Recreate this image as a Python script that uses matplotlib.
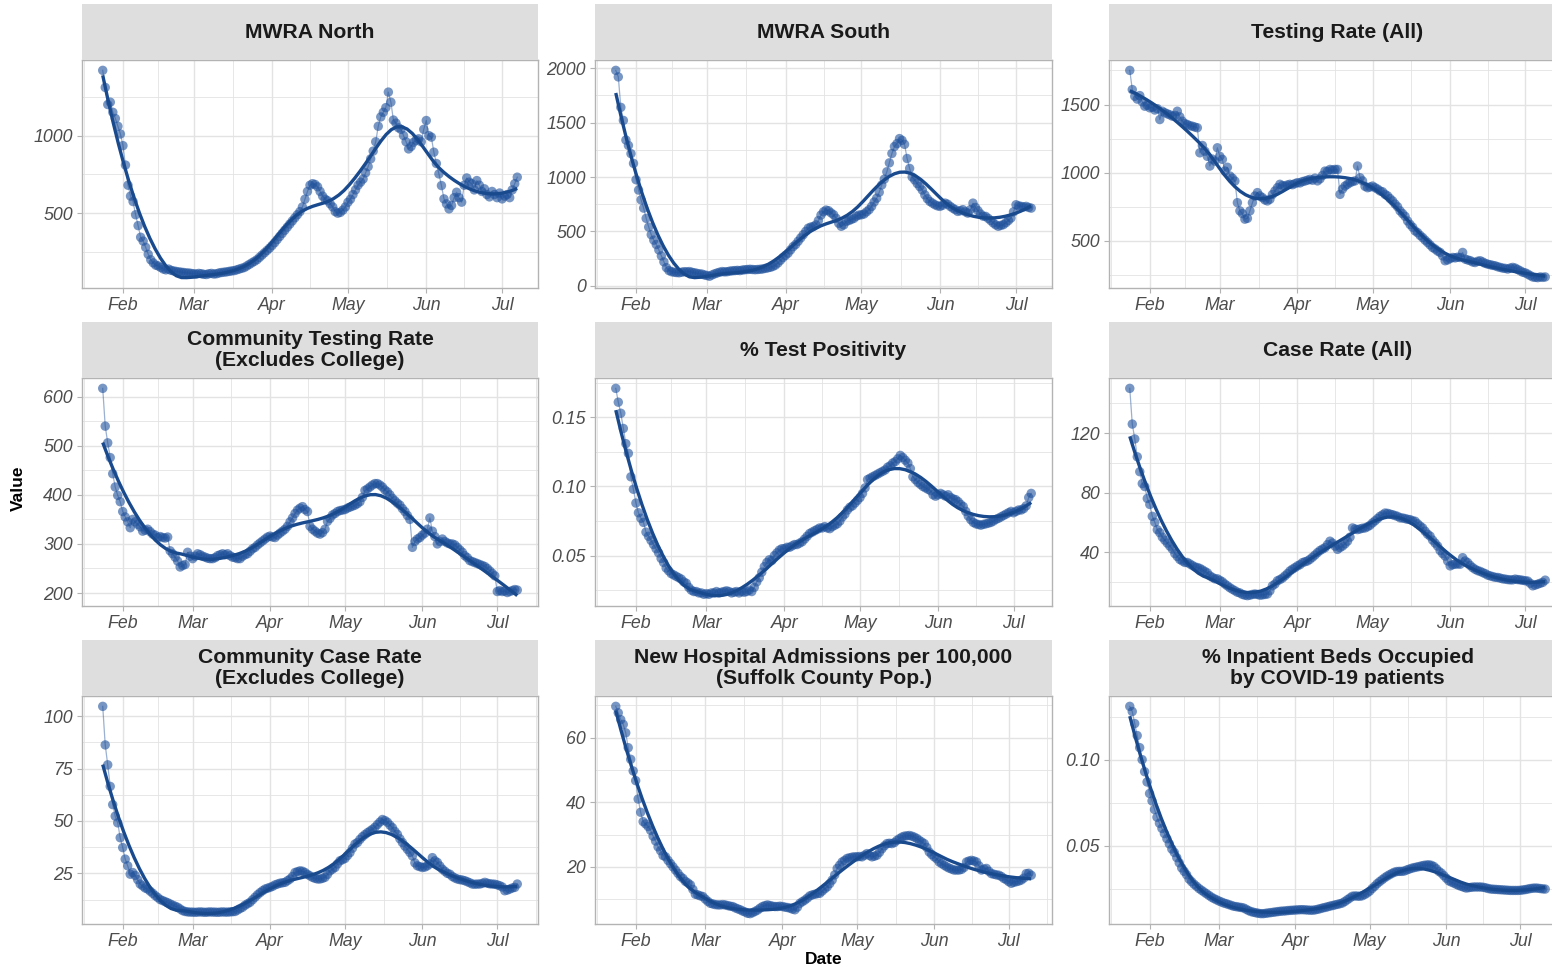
import numpy as np
import matplotlib
matplotlib.use("Agg")
import matplotlib.pyplot as plt
import matplotlib.dates as mdates

plt.rcParams['font.family'] = ['Liberation Sans', 'DejaVu Sans']

# ---------------- data (daily values starting 2021-01-24) ----------------
START_DATE = "2021-01-24"

mwra_north = [1420, 1310, 1200, 1215, 1150, 1110, 1060, 1010,
              935, 810, 680, 610, 575, 490, 420, 345,
              320, 280, 235, 200, 180, 165, 160, 150,
              140, 135, 140, 132, 128, 125, 122, 120, 118, 115, 115, 112,
              110, 108, 112, 110, 106, 105, 110, 112, 108, 110, 115, 118,
              120, 122, 125, 128, 130, 135, 140, 145, 150, 160, 170, 180,
              190, 200, 215, 230, 245, 260, 275,
              292, 310, 330, 350, 370, 390, 410, 430, 450, 470, 490, 510,
              540, 590, 640, 680, 690, 685, 670, 640,
              610, 590, 580, 560, 540, 510, 500, 505, 520, 540,
              570, 590, 620, 650, 680, 700, 720, 760, 800, 850, 900, 960,
              1060, 1120, 1150, 1180, 1280, 1215, 1100, 1080,
              1050, 1040, 1000, 960, 914, 930, 957, 970, 979, 960, 1040, 1097,
              1000, 990, 893, 820, 753, 678, 592, 560, 528, 550, 600, 635,
              600, 571, 680, 727, 700, 690, 650, 710, 680, 640, 657, 620,
              605, 640, 620, 600, 630, 592, 610, 620, 600, 650, 690, 732]

mwra_south = [1980, 1920, 1640, 1520, 1340, 1290, 1215, 1125,
              975, 880, 790, 714, 620, 540, 470, 420,
              380, 330, 275, 220, 167, 140, 130, 125,
              122, 120, 125, 130, 128, 131, 125, 120, 115, 110, 108, 100,
              95, 88, 100, 110, 118, 125, 131, 128, 130, 135, 138, 140,
              142, 140, 145, 148, 150, 152, 150, 148, 150, 152, 155, 160,
              165, 170, 178, 190, 210, 235, 260,
              280, 300, 330, 360, 380, 410, 440, 470, 500, 530, 540, 545,
              560, 600, 650, 680, 696, 690, 670, 653,
              620, 575, 547, 560, 593, 600, 610, 620, 640, 650,
              653, 660, 680, 700, 730, 770, 805, 860, 927, 980, 1048, 1130,
              1216, 1280, 1307, 1353, 1337, 1300, 1170, 1079,
              1000, 973, 940, 912, 880, 836, 800, 775, 760, 745, 735, 730,
              740, 760, 750, 730, 714, 700, 684, 690, 700, 680, 668, 700,
              760, 720, 690, 660, 640, 638, 620, 600, 578, 560, 547, 555,
              562, 580, 600, 623, 680, 745, 735, 730, 725, 730, 720, 714]

testing_rate = [1751, 1610, 1561, 1540, 1566, 1520, 1488, 1495,
                1476, 1480, 1460, 1470, 1390, 1451, 1440, 1432,
                1425, 1415, 1420, 1451, 1410, 1378, 1360, 1354,
                1345, 1341, 1335, 1330, 1146, 1200, 1158, 1120, 1049, 1100, 1085, 1183,
                1120, 1098, 1012, 1040, 976, 960, 939, 780, 720, 700, 659, 665,
                720, 780, 829, 854, 830, 817, 800, 793, 805, 840, 866, 890,
                915, 905, 902, 910, 915, 912, 920,
                927, 925, 935, 939, 945, 951, 945, 960, 940, 955, 980, 1012,
                1010, 1024, 1020, 1024, 1024, 841, 880, 902,
                915, 927, 935, 940, 1049, 963, 940, 900, 890, 895,
                902, 890, 880, 866, 860, 841, 830, 810, 793, 770, 750, 720,
                700, 680, 646, 620, 600, 573, 560, 540,
                524, 505, 488, 470, 451, 440, 425, 415, 390, 354, 360, 370,
                378, 375, 380, 378, 415, 366, 360, 355, 345, 341, 350, 354,
                345, 335, 329, 325, 320, 317, 310, 305, 300, 298, 293, 300,
                305, 300, 290, 280, 270, 265, 256, 245, 235, 232, 230, 235,
                232, 235]

community_testing = [617, 540, 506, 476, 443, 416, 399, 386,
                     366, 355, 345, 333, 350, 345, 340, 335,
                     326, 328, 330, 325, 320, 318, 313, 315,
                     313, 312, 314, 286, 280, 273, 265, 253, 256, 258, 283, 275,
                     270, 275, 280, 278, 275, 273, 271, 270, 270, 272, 276, 278,
                     280, 278, 280, 276, 273, 272, 270, 270, 275, 278, 280, 285,
                     290, 293, 298, 302, 306, 310, 314,
                     316, 314, 313, 318, 322, 326, 330, 336, 345, 353, 362, 369,
                     373, 376, 370, 366, 336, 330, 326, 322,
                     320, 323, 330, 346, 352, 359, 362, 366, 368, 369,
                     370, 373, 375, 377, 379, 382, 386, 395, 409, 412, 416, 420,
                     423, 423, 420, 416, 410, 406, 400, 393,
                     388, 383, 379, 372, 366, 358, 350, 293, 305, 310, 313, 318,
                     322, 330, 353, 326, 315, 300, 305, 310, 305, 302, 300, 300,
                     298, 293, 288, 283, 276, 272, 266, 264, 262, 260, 258, 256,
                     254, 250, 245, 240, 235, 203, 205, 203, 204, 201, 203, 205,
                     207, 206]

test_positivity = [0.171, 0.161, 0.153, 0.142, 0.131, 0.124, 0.107, 0.098,
                   0.088, 0.081, 0.077, 0.074, 0.067, 0.064, 0.061, 0.058,
                   0.055, 0.052, 0.048, 0.045, 0.041, 0.039, 0.037, 0.036,
                   0.035, 0.034, 0.033, 0.031, 0.030, 0.027, 0.025, 0.024, 0.024, 0.023, 0.023, 0.022,
                   0.0225, 0.022, 0.023, 0.023, 0.024, 0.023, 0.0235, 0.024, 0.0245, 0.024, 0.023, 0.0235,
                   0.024, 0.023, 0.024, 0.0235, 0.024, 0.025, 0.024, 0.027, 0.031, 0.034, 0.038, 0.042,
                   0.045, 0.047, 0.0465, 0.050, 0.052, 0.054, 0.055,
                   0.055, 0.056, 0.056, 0.057, 0.058, 0.058, 0.059, 0.060, 0.062, 0.064, 0.066, 0.067,
                   0.068, 0.069, 0.070, 0.070, 0.071, 0.070, 0.0695, 0.071,
                   0.072, 0.073, 0.075, 0.078, 0.080, 0.083, 0.085, 0.086, 0.088, 0.090,
                   0.092, 0.095, 0.099, 0.105, 0.106, 0.107, 0.108, 0.109, 0.110, 0.111, 0.112, 0.114,
                   0.115, 0.117, 0.118, 0.120, 0.1225, 0.121, 0.119, 0.117,
                   0.113, 0.107, 0.105, 0.103, 0.1015, 0.100, 0.099, 0.098, 0.097, 0.094, 0.093, 0.094,
                   0.095, 0.094, 0.093, 0.094, 0.092, 0.091, 0.0905, 0.089, 0.087, 0.0855, 0.082, 0.0786,
                   0.076, 0.074, 0.073, 0.0725, 0.072, 0.0726, 0.073, 0.0735, 0.074, 0.075, 0.0762, 0.077,
                   0.078, 0.079, 0.080, 0.081, 0.082, 0.081, 0.082, 0.083, 0.083, 0.084, 0.086, 0.092, 0.095]

case_rate = [150, 126, 116, 104, 94, 86, 84, 76,
             72, 64, 60, 55, 53, 50, 48, 46,
             44, 42, 39, 37, 35, 34, 33, 33,
             32, 31, 30, 29.6, 29, 28, 27, 26, 24, 23, 22, 22,
             21, 20, 18.5, 17.3, 16, 15, 14, 13, 12.5, 11.5, 11, 10.7,
             11, 11.5, 11.8, 11.5, 11, 11.2, 11.5, 11.8, 14, 17.3, 18.5, 20.7,
             21.5, 22.5, 24, 25.5, 27.3, 28.5, 29.5,
             30.7, 31.5, 32.9, 33.5, 34, 35.1, 36.5, 38, 39.6, 41, 42, 42.9,
             45, 47.3, 46, 44, 41.8, 43, 44, 45.5,
             47.3, 50, 56.2, 55.5, 55.1, 55.5, 56, 56.2, 57, 58,
             59.6, 61, 62.5, 64, 65, 66.2, 66, 65.5, 65.1, 64.5, 64, 63,
             62.9, 62.5, 62, 61.8, 61, 60.7, 59, 57.5,
             56.2, 54, 52, 50.7, 48, 46, 44, 41, 39, 37.3, 34, 30.7,
             31.5, 31.8, 32, 31.8, 36.2, 34, 32.9, 31, 29.5, 28.4, 27.5, 27,
             26.2, 25.5, 24.5, 24, 23.5, 23, 22.9, 22.5, 22, 21.8, 21.5, 21.3,
             21.3, 21.8, 21.5, 21.3, 21, 20.7, 20.5, 19, 17.3, 17.8, 18.4, 19,
             19.6, 21.1]

community_case_rate = [104.7, 86.3, 76.8, 66.5, 57.8, 52.3, 49.1, 42,
                       37.3, 31.8, 28.6, 24.6, 25.4, 24, 22, 19.9,
                       19, 18, 17.5, 16.5, 15.5, 14.4, 13.5, 12.5,
                       12, 11.5, 11, 10.4, 9.8, 9.3, 8.8, 8, 7.2, 6.8, 6.6, 6.5,
                       6.5, 6.4, 6.5, 6.6, 6.5, 6.4, 6.5, 6.6, 6.5, 6.5, 6.4, 6.5,
                       6.6, 6.5, 6.5, 6.6, 6.7, 6.8, 7.5, 8.2, 8.8, 9.8, 10.5, 11.2,
                       12.4, 13.6, 14.8, 15.8, 16.7, 17.5, 17.9,
                       18.3, 18.8, 19.5, 19.9, 20.3, 20.5, 20.7, 21.5, 22.3, 23.5, 25.4, 25.8,
                       26.2, 26.0, 25.4, 24.5, 23.8, 23.1, 22.6, 22.3,
                       22.3, 22.6, 23.1, 24.5, 26.2, 27, 27.8, 29.5, 31, 31.5,
                       32.1, 33.5, 34.9, 37, 39, 39.7, 41.2, 42.5, 43.5, 44.4, 45.2, 46,
                       47, 48.3, 49.5, 50.7, 50.2, 49.4, 48, 46.8,
                       45, 43.6, 41.5, 39.7, 38, 36.5, 35, 33.3, 30, 28.6, 28.2, 27.8,
                       28, 28.6, 29.5, 32.5, 31, 30.2, 28.5, 27, 26, 25, 24.6, 23.5,
                       22.8, 22.3, 22, 21.8, 21.5, 21, 20.5, 19.9, 19.8, 19.9, 19.9, 20.2,
                       20.7, 20.3, 20, 19.9, 19.8, 19.5, 19.1, 18.5, 16.7, 17, 17.5, 18,
                       18.3, 19.9]

hospital_admissions = [69.7, 67.7, 65.6, 64.1, 61.5, 56.9, 53.3, 49.7,
                       46.7, 41, 36.9, 34, 33.3, 32.5, 31.3, 29.5,
                       28, 26.2, 25, 23.5, 23.1, 22, 21, 20,
                       19, 18, 17, 16.4, 15.5, 15, 14.4, 13, 11.5, 11.3, 11, 10.8,
                       10, 9.3, 8.7, 8.5, 8.3, 8.2, 8.2, 8.3, 8.2, 8, 7.8, 7.7,
                       7.3, 7, 6.7, 6.3, 6, 5.6, 5.5, 5.8, 6.2, 6.6, 7.2, 7.7,
                       8, 8.2, 8, 7.8, 7.7, 7.7, 7.8,
                       7.7, 7.5, 7.4, 7.2, 6.9, 6.7, 7.5, 8.7, 9.2, 9.7, 10.3, 11,
                       11.3, 11.5, 11.7, 11.8, 12.5, 13.2, 13.8, 14.8,
                       15.9, 17.5, 19.5, 20.5, 21.5, 22, 22.6, 22.8, 23, 23.1,
                       23.1, 23.2, 23.1, 23.6, 24.1, 23.5, 23.1, 23.3, 23.6, 24.5, 25.6, 26.5,
                       27.2, 27.3, 27.2, 27.5, 28.2, 28.7, 29.2, 29.5,
                       29.6, 29.7, 29.5, 29.2, 28.8, 28.2, 27.7, 27.2, 26, 24.6, 23.8, 23.1,
                       22.5, 21.5, 21, 20.5, 20, 19.6, 19.3, 19, 19, 19, 19.2, 19.8,
                       21.5, 21.8, 22, 21.8, 21.5, 20.3, 19, 19.3, 19.5, 18.6, 17.9, 17.7,
                       17.5, 17.4, 17, 16.4, 16, 15.4, 14.9, 15.2, 15.4, 15.6, 15.9, 16.5,
                       17.9, 18, 17.4]

inpatient_beds = [0.131, 0.128, 0.121, 0.114, 0.107, 0.100, 0.093, 0.087,
                  0.0803, 0.076, 0.071, 0.0665, 0.063, 0.060, 0.057, 0.054,
                  0.051, 0.048, 0.046, 0.043, 0.040, 0.037, 0.035, 0.033,
                  0.0305, 0.029, 0.0275, 0.0263, 0.025, 0.024, 0.023, 0.022, 0.021, 0.020, 0.0192, 0.0185,
                  0.0178, 0.0172, 0.0166, 0.0162, 0.0157, 0.0152, 0.0147, 0.0145, 0.0142, 0.014, 0.0137, 0.013,
                  0.0122, 0.0116, 0.0112, 0.0109, 0.0106, 0.0104, 0.0104, 0.0106, 0.0108, 0.011, 0.0112, 0.0114,
                  0.0116, 0.0118, 0.0119, 0.012, 0.0122, 0.0123, 0.0124,
                  0.0125, 0.0126, 0.0127, 0.0127, 0.0126, 0.0125, 0.0124, 0.0124, 0.0126, 0.0129, 0.0133, 0.0137,
                  0.014, 0.0144, 0.0148, 0.0151, 0.0155, 0.0158, 0.0162, 0.0166,
                  0.0175, 0.0185, 0.0195, 0.0205, 0.0207, 0.0206, 0.0205, 0.0208, 0.0215, 0.0224,
                  0.0235, 0.025, 0.0263, 0.0278, 0.029, 0.0301, 0.0312, 0.0322, 0.033, 0.0338, 0.0345, 0.0349,
                  0.035, 0.035, 0.0352, 0.0358, 0.0363, 0.0368, 0.0372, 0.0375,
                  0.0378, 0.0382, 0.0385, 0.0387, 0.0388, 0.0385, 0.0378, 0.0365, 0.035, 0.034, 0.0325, 0.031,
                  0.0295, 0.0288, 0.0282, 0.0275, 0.0268, 0.0263, 0.0258, 0.0253, 0.0255, 0.0257, 0.0259, 0.0259,
                  0.0259, 0.0259, 0.0257, 0.0254, 0.025, 0.0247, 0.0246, 0.0245, 0.0244, 0.0243, 0.0242, 0.0241,
                  0.024, 0.0239, 0.0239, 0.0239, 0.0239, 0.024, 0.0242, 0.0244, 0.0247, 0.025, 0.0252, 0.0253,
                  0.0252, 0.025, 0.0248, 0.0247]

panel_titles = ["MWRA North", "MWRA South", "Testing Rate (All)",
                "Community Testing Rate\n(Excludes College)", "% Test Positivity", "Case Rate (All)",
                "Community Case Rate\n(Excludes College)",
                "New Hospital Admissions per 100,000\n(Suffolk County Pop.)",
                "% Inpatient Beds Occupied\nby COVID-19 patients"]

y_breaks = [[500, 1000], [0, 500, 1000, 1500, 2000], [500, 1000, 1500],
            [200, 300, 400, 500, 600], [0.05, 0.10, 0.15], [40, 80, 120],
            [25, 50, 75, 100], [20, 40, 60], [0.05, 0.10]]
y_labels = [["500", "1000"], ["0", "500", "1000", "1500", "2000"], ["500", "1000", "1500"],
            ["200", "300", "400", "500", "600"], ["0.05", "0.10", "0.15"], ["40", "80", "120"],
            ["25", "50", "75", "100"], ["20", "40", "60"], ["0.05", "0.10"]]
month_breaks = ["2021-02-01", "2021-03-01", "2021-04-01", "2021-05-01", "2021-06-01", "2021-07-01"]
month_labels = ["Feb", "Mar", "Apr", "May", "Jun", "Jul"]

series = [mwra_north, mwra_south, testing_rate, community_testing, test_positivity,
          case_rate, community_case_rate, hospital_admissions, inpatient_beds]


def loess(x, y, xs, span=0.4):
    n = len(x)
    q = max(int(np.floor(n * span)), 3)
    out = []
    for x0 in xs:
        d = np.abs(x - x0)
        h = np.sort(d)[q - 1]
        u = np.clip(d / h, 0, 1)
        w = (1 - u ** 3) ** 3
        X = np.vstack([np.ones(n), x - x0, (x - x0) ** 2]).T
        sw = np.sqrt(w)
        beta = np.linalg.lstsq(X * sw[:, None], y * sw, rcond=None)[0]
        out.append(beta[0])
    return np.array(out)


# ---------------- layout ----------------
W, H = 1552, 968
fig = plt.figure(figsize=(W / 100, H / 100), dpi=100)
fig.patch.set_facecolor("white")

col_x = [(82, 538), (595, 1052), (1109, 1566)]
row_y = [(4, 60, 288), (322, 378, 606), (640, 696, 924)]

PT_COLOR = "#1f519b"
SM_COLOR = "#1a4a8e"
GRID = "#e3e3e3"
BORDER = "#b3b3b3"
TXT = "#4d4d4d"

start = np.datetime64(START_DATE)
mb = np.array(month_breaks, dtype="datetime64[D]")
mb_num = mdates.date2num(mb)
all_months = np.array(["2021-01-01"] + month_breaks + ["2021-08-01"], dtype="datetime64[D]")
am_num = mdates.date2num(all_months)
minor_x = (am_num[:-1] + am_num[1:]) / 2

for i, vals in enumerate(series):
    r, c = divmod(i, 3)
    x0, x1 = col_x[c]
    st, pt, pb = row_y[r]
    ax = fig.add_axes([x0 / W, 1 - pb / H, (x1 - x0) / W, (pb - pt) / H])
    sax = fig.add_axes([x0 / W, 1 - pt / H, (x1 - x0) / W, (pt - st) / H])

    y = np.array(vals, dtype=float)
    dates = start + np.arange(len(y)).astype("timedelta64[D]")
    xn = mdates.date2num(dates)
    xs = np.linspace(xn[0], xn[-1], 80)
    ys = loess(xn, y, xs, span=0.4)

    ax.plot(xn, y, color=PT_COLOR, lw=0.9, alpha=0.45, zorder=3)
    ax.scatter(xn, y, s=46, color=PT_COLOR, alpha=0.6, edgecolors="none", zorder=4)
    ax.plot(xs, ys, color=SM_COLOR, lw=2.4, zorder=5, solid_capstyle="butt")

    xr = xn[-1] - xn[0]
    lo = min(y.min(), ys.min())
    hi = max(y.max(), ys.max())
    yr = hi - lo

    yb = np.array(y_breaks[i], dtype=float)
    step = yb[1] - yb[0]
    ext = np.concatenate([[yb[0] - step], yb, [yb[-1] + step]])
    minor_y = (ext[:-1] + ext[1:]) / 2

    ax.set_xticks(mb_num)
    ax.set_xticklabels(month_labels)
    ax.set_xticks(minor_x, minor=True)
    ax.set_yticks(yb)
    ax.set_yticklabels(y_labels[i])
    ax.set_yticks(minor_y, minor=True)
    ax.set_xlim(xn[0] - 0.05 * xr, xn[-1] + 0.05 * xr)
    ax.set_ylim(lo - 0.05 * yr, hi + 0.05 * yr)

    ax.grid(which="major", color=GRID, lw=1.0, zorder=0)
    ax.grid(which="minor", color=GRID, lw=0.6, zorder=0)
    ax.set_axisbelow(True)
    ax.tick_params(which="major", length=3.5, width=0.8, color=BORDER,
                   labelsize=12.8, labelcolor=TXT, pad=3)
    ax.tick_params(which="minor", length=0)
    for lab in ax.get_xticklabels() + ax.get_yticklabels():
        lab.set_fontstyle("italic")
    for sp in ax.spines.values():
        sp.set_color(BORDER)
        sp.set_linewidth(1.0)

    sax.set_facecolor("#dedede")
    sax.set_xticks([])
    sax.set_yticks([])
    for sp in sax.spines.values():
        sp.set_visible(False)
    sax.text(0.5, 0.5, panel_titles[i], ha="center", va="center", fontsize=15.2,
             fontweight="bold", color="#1a1a1a", linespacing=1.15,
             transform=sax.transAxes)

fig.text(18 / W, 1 - 488 / H, "Value", rotation=90, ha="center", va="center",
         fontsize=12.5, fontweight="bold", color="black")
fig.text(824 / W, 1 - 960 / H, "Date", ha="center", va="center",
         fontsize=12.5, fontweight="bold", color="black")

fig.savefig("out.png", dpi=100, facecolor="white")
